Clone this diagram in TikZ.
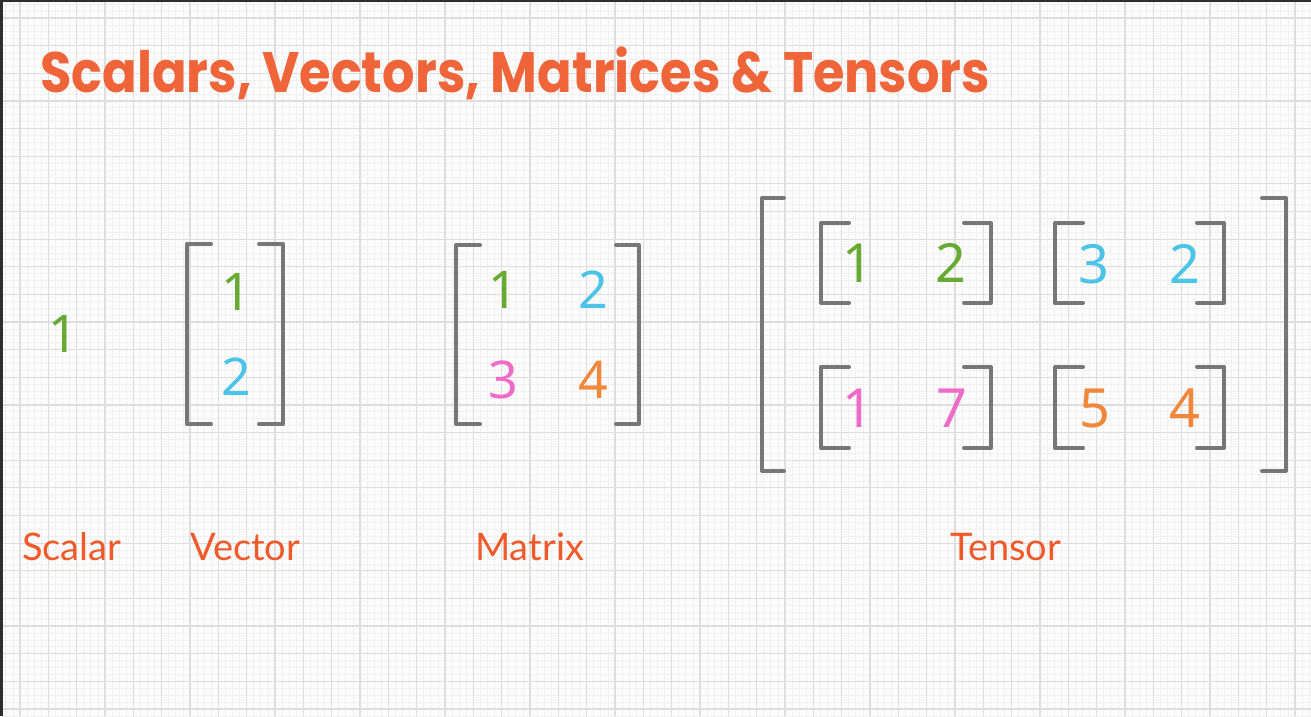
\documentclass[tikz,border=0pt]{standalone}
\usepackage{fontspec}
\setmainfont{Noto Sans}
\newfontfamily\titlefont{Poppins}
\newfontfamily\labelfont{Lato}
\newfontfamily\digitfont{Noto Sans}
\definecolor{ttl}{HTML}{F0643A}
\definecolor{lbl}{HTML}{F05A2A}
\definecolor{cg}{HTML}{66AA33}
\definecolor{cb}{HTML}{4DC3EA}
\definecolor{cp}{HTML}{EE6CC8}
\definecolor{co}{HTML}{F0873A}
\definecolor{brkc}{HTML}{777777}
\definecolor{gmaj}{HTML}{DEDEDE}
\definecolor{gmin}{HTML}{F1F1F1}
\definecolor{frame}{HTML}{2E2E2E}
\newsavebox\ttlbox
\sbox\ttlbox{\color{ttl}\titlefont\bfseries\fontsize{57}{57}\selectfont Scalars, Vectors, Matrices \& Tensors}
\newcommand\mylbr[4]{\draw[brk] ({#1+#4},#2) -- (#1,#2) -- (#1,#3) -- ({#1+#4},#3);}
\newcommand\myrbr[4]{\draw[brk] ({#1-#4},#2) -- (#1,#2) -- (#1,#3) -- ({#1-#4},#3);}
\begin{document}
\begin{tikzpicture}[x=1pt,y=-1pt,
  brk/.style={draw=brkc,line width=4pt,line cap=round,line join=round},
  dig/.style={inner sep=0pt,font=\digitfont\fontsize{52}{52}\selectfont},
  tdig/.style={inner sep=0pt,font=\digitfont\fontsize{54}{54}\selectfont},
  lab/.style={inner sep=0pt,anchor=base west,text=lbl,font=\labelfont\fontsize{38}{38}\selectfont}]
\useasboundingbox (0,0) rectangle (1311,716);
\fill[white!98!gray] (0,0) rectangle (1311,716);
\begin{scope}
\clip (0,0) rectangle (1311,716);
\foreach \i in {-4,...,190} \draw[gmin,line width=0.8pt] ({20+\i*28.333/4},0) -- ++(0,716);
\foreach \i in {-4,...,110} \draw[gmin,line width=0.8pt] (0,{18+\i*27.64/4}) -- ++(1311,0);
\foreach \i in {-1,...,47} \draw[gmaj,line width=1.2pt] ({20+\i*28.333},0) -- ++(0,716);
\foreach \i in {-1,...,27} \draw[gmaj,line width=1.2pt] (0,{18+\i*27.64}) -- ++(1311,0);
\end{scope}
\fill[frame] (0,0) rectangle (1311,2);
\fill[frame] (0,0) rectangle (3,716);
% title
\pgfmathsetmacro\ttlratio{950/(\the\wd\ttlbox)}
\node[inner sep=0pt,anchor=base west,text=ttl] (title) at (40,92) {\scalebox{\ttlratio}[1]{\usebox\ttlbox}};
% scalar
\node[dig,text=cg] (s1) at (63,334) {1};
% vector
\mylbr{187}{244}{424}{24}
\myrbr{283}{244}{424}{24}
\node[dig,text=cg] (v1) at (236,292) {1};
\node[dig,text=cb] (v2) at (236,377) {2};
% matrix
\mylbr{456}{245}{424}{24}
\myrbr{639}{245}{424}{23}
\node[dig,text=cg] (m11) at (503,290) {1};
\node[dig,text=cb] (m12) at (593,290) {2};
\node[dig,text=cp] (m21) at (503,380) {3};
\node[dig,text=co] (m22) at (593,380) {4};
% tensor
\mylbr{762}{198}{471}{22}
\myrbr{1286}{198}{471}{24}
\mylbr{821}{223}{303}{28}
\myrbr{991}{223}{303}{27}
\mylbr{1055}{223}{303}{28}
\myrbr{1224}{223}{303}{27}
\mylbr{821}{367}{448}{28}
\myrbr{991}{367}{448}{27}
\mylbr{1055}{367}{448}{28}
\myrbr{1224}{367}{448}{27}
\node[tdig,text=cg] (t111) at (858,263) {1};
\node[tdig,text=cg] (t112) at (951,263) {2};
\node[tdig,text=cb] (t121) at (1094,264) {3};
\node[tdig,text=cb] (t122) at (1185,264) {2};
\node[tdig,text=cp] (t211) at (858,408) {1};
\node[tdig,text=cp] (t212) at (952,408) {7};
\node[tdig,text=co] (t221) at (1095,408) {5};
\node[tdig,text=co] (t222) at (1185,408) {4};
% labels
\node[lab] (lscalar) at (22,560) {Scalar};
\node[lab] (lvector) at (190,560) {Vector};
\node[lab] (lmatrix) at (475,560) {Matrix};
\node[lab] (ltensor) at (950,560) {Tensor};
\end{tikzpicture}
\end{document}
